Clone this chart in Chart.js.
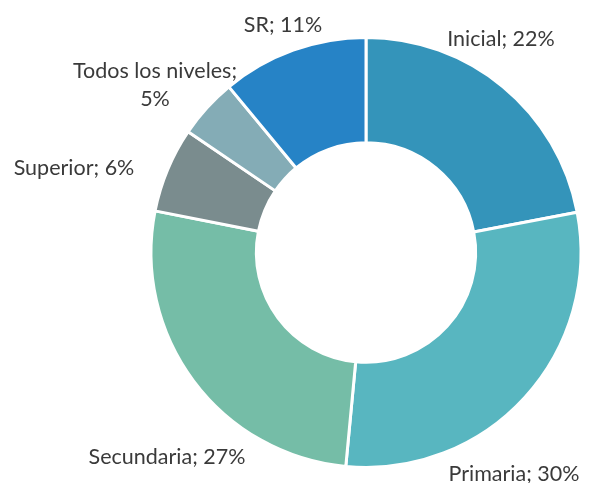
<!DOCTYPE html>
<html>
<head>
<meta charset="utf-8">
<script src="https://cdn.jsdelivr.net/npm/chart.js@4.4.0/dist/chart.umd.min.js"></script>
<style>
  html, body { margin: 0; padding: 0; background: #fff; }
  #wrap { width: 595px; height: 483px; position: relative; }
</style>
</head>
<body>
<div id="wrap"><canvas id="grafico"></canvas></div>
<script>
// Niveles educativos
const categorias = ['Inicial', 'Primaria', 'Secundaria', 'Superior', 'Todos los niveles', 'SR'];
const valores = [22, 29.5, 26.6, 6.4, 4.5, 11];
const porcentajes = ['22%', '30%', '27%', '6%', '5%', '11%'];
const colores = ['#3494BA', '#58B6C0', '#75BDA7', '#7A8C8E', '#84ACB6', '#2683C6'];

// posicion de cada etiqueta respecto al centro de la dona
const posEtiquetas = [[135, -213], [148, 222], [-199, 205], [-292, -84], [-211, -167], [-83, -227]];

const etiquetasPlugin = {
  id: 'etiquetas',
  afterDatasetsDraw(chart) {
    const ctx = chart.ctx;
    const arcs = chart.getDatasetMeta(0).data;
    const cx = arcs[0].x, cy = arcs[0].y;
    ctx.save();
    ctx.font = '21.5px Lato';
    ctx.fillStyle = '#3a3a3a';
    ctx.textAlign = 'center';
    ctx.textBaseline = 'middle';
    categorias.forEach((cat, i) => {
      const x = cx + posEtiquetas[i][0];
      const y = cy + posEtiquetas[i][1];
      if (cat === 'Todos los niveles') {
        ctx.fillText(cat + ';', x, y - 14);
        ctx.fillText(porcentajes[i], x, y + 14);
      } else {
        ctx.fillText(cat + '; ' + porcentajes[i], x, y);
      }
    });
    ctx.restore();
  }
};

const ctx = document.getElementById('grafico').getContext('2d');
new Chart(ctx, {
  type: 'doughnut',
  data: {
    labels: categorias,
    datasets: [{
      data: valores,
      backgroundColor: colores,
      borderColor: '#ffffff',
      borderWidth: 3
    }]
  },
  options: {
    responsive: true,
    maintainAspectRatio: false,
    animation: false,
    cutout: '51%',
    layout: { padding: { top: 36, bottom: 14, left: 149, right: 12 } },
    plugins: {
      legend: { display: false },
      tooltip: { enabled: false }
    }
  },
  plugins: [etiquetasPlugin]
});
</script>
</body>
</html>
